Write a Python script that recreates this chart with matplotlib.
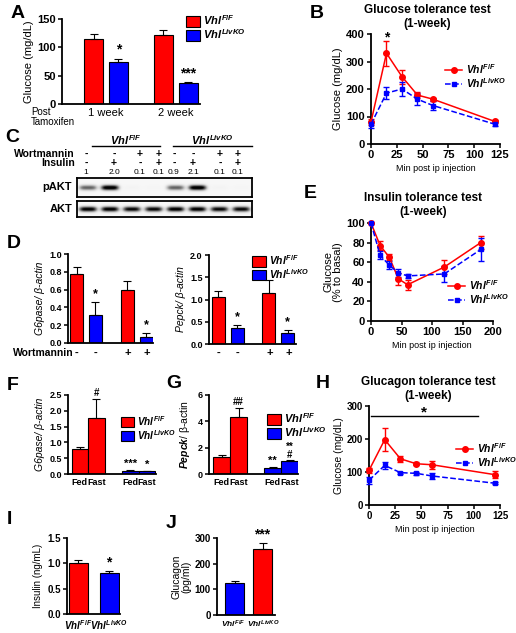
import numpy as np
import matplotlib
matplotlib.use("Agg")
import matplotlib.pyplot as plt
from matplotlib.patches import Patch
from matplotlib.lines import Line2D

# =========================
# DATA
# =========================
# A: fasting glucose after tamoxifen
a_groups = ["1 week", "2 week"]
a_ff = [114, 121]
a_ff_err = [10, 9]
a_ko = [74, 37]
a_ko_err = [6, 2]
a_marks = ["*", "***"]

# B: glucose tolerance test
gtt_t = [0, 15, 30, 45, 60, 120]
gtt_ff = [80, 330, 245, 178, 163, 82]
gtt_ff_err = [10, 45, 25, 10, 5, 6]
gtt_ko = [72, 185, 200, 163, 140, 72]
gtt_ko_err = [12, 22, 25, 22, 15, 8]

# C: western blot
lane_wort = ["-", "-", "+", "+", "-", "-", "+", "+"]
lane_ins = ["-", "+", "-", "+", "-", "+", "-", "+"]
lane_quant = ["1", "2.0", "0.1", "0.1", "0.9", "2.1", "0.1", "0.1"]
pakt_signal = [0.6, 1.0, 0.03, 0.02, 0.6, 1.0, 0.03, 0.02]
akt_signal = [0.95, 0.95, 0.9, 0.9, 0.95, 0.95, 0.9, 0.9]

# D: G6pase / Pepck with wortmannin
d_wort = ["-", "-", "+", "+"]
d_g6_ff = [0.77, 0.59]
d_g6_ff_err = [0.08, 0.11]
d_g6_ko = [0.32, 0.07]
d_g6_ko_err = [0.14, 0.04]
d_pe_ff = [1.06, 1.15]
d_pe_ff_err = [0.12, 0.29]
d_pe_ko = [0.36, 0.25]
d_pe_ko_err = [0.07, 0.06]

# E: insulin tolerance test
itt_t = [0, 15, 30, 45, 60, 120, 180]
itt_ff = [100, 77, 65, 43, 37, 55, 80]
itt_ff_err = [0, 5, 3, 6, 5, 7, 7]
itt_ko = [100, 67, 57, 49, 46, 48, 73]
itt_ko_err = [0, 4, 4, 4, 2, 8, 12]

# F / G: fed vs fast
fg_labels = ["Fed", "Fast"]
f_ff = [0.78, 1.78]
f_ff_err = [0.09, 0.6]
f_ko = [0.11, 0.08]
f_ko_err = [0.02, 0.01]
g_ff = [1.3, 4.3]
g_ff_err = [0.12, 0.7]
g_ko = [0.45, 0.95]
g_ko_err = [0.07, 0.08]

# H: glucagon tolerance test
gcg_t = [0, 15, 30, 45, 60, 120]
gcg_ff = [105, 198, 140, 125, 122, 92]
gcg_ff_err = [8, 35, 10, 5, 12, 10]
gcg_ko = [75, 120, 98, 96, 88, 66]
gcg_ko_err = [10, 10, 3, 5, 10, 3]

# I / J: serum hormones
ins_vals = [1.01, 0.81]
ins_err = [0.05, 0.03]
gcg_vals = [125, 258]
gcg_err = [7, 22]

# =========================
# STYLE
# =========================
plt.rcParams["font.family"] = ["Liberation Sans", "DejaVu Sans"]
plt.rcParams["font.weight"] = "bold"
plt.rcParams["mathtext.fontset"] = "custom"
plt.rcParams["mathtext.rm"] = "Liberation Sans:bold"
plt.rcParams["mathtext.it"] = "Liberation Sans:italic:bold"
plt.rcParams["mathtext.bf"] = "Liberation Sans:bold"
plt.rcParams["axes.linewidth"] = 1.3
plt.rcParams["xtick.major.width"] = 1.1
plt.rcParams["ytick.major.width"] = 1.1
plt.rcParams["xtick.major.size"] = 3
plt.rcParams["ytick.major.size"] = 3
plt.rcParams["xtick.major.pad"] = 1.5
plt.rcParams["ytick.major.pad"] = 1.5

RED = "#ff0000"
BLUE = "#0000ff"
FF = r"$Vhl^{F/F}$"
KO = r"$Vhl^{LivKO}$"

W, H = 516, 633
fig = plt.figure(figsize=(W / 100, H / 100), dpi=100)

overlay = fig.add_axes([0, 0, 1, 1], zorder=5)
overlay.set_xlim(0, W)
overlay.set_ylim(H, 0)
overlay.axis("off")
overlay.patch.set_visible(False)


def fx(x):
    return x / W


def fy(y):
    return 1 - y / H


def add_ax(l, t, r, b):
    ax = fig.add_axes([l / W, 1 - b / H, (r - l) / W, (b - t) / H])
    ax.spines[["top", "right"]].set_visible(False)
    return ax


def txt(x, y, s, size=8, **kw):
    kw.setdefault("ha", "center")
    kw.setdefault("va", "center")
    overlay.text(x, y, s, fontsize=size, **kw)


def bars(ax, x, vals, errs, color, width):
    ax.bar(x, vals, width, color=color, edgecolor="k", linewidth=0.8, zorder=2)
    ax.errorbar(x, vals, yerr=[np.zeros(len(vals)), errs], fmt="none",
                ecolor="k", elinewidth=0.8, capsize=3, capthick=0.8, zorder=3)


def curve(ax, x, y, e, color, marker, ls, ms):
    ax.errorbar(x, y, yerr=e, color=color, marker=marker, ms=ms, ls=ls,
                lw=1.1, elinewidth=1, capsize=2.5, capthick=1,
                clip_on=False, zorder=3)


def bar_legend(x, y, size=7.5):
    handles = [Patch(facecolor=RED, edgecolor="k", linewidth=0.8, label=FF),
               Patch(facecolor=BLUE, edgecolor="k", linewidth=0.8, label=KO)]
    fig.legend(handles=handles, loc="upper left", bbox_to_anchor=(fx(x), fy(y)),
               frameon=False, fontsize=size, handlelength=1.3, handleheight=1.15,
               handletextpad=0.3, labelspacing=0.0, borderpad=0)


def line_legend(ax, x, y, size=7.5):
    handles = [Line2D([], [], color=RED, marker="o", ms=4, ls="-", lw=1.1, label=FF),
               Line2D([], [], color=BLUE, marker="s", ms=3.5, ls="--", lw=1.1, label=KO)]
    ax.legend(handles=handles, loc="center left", bbox_to_anchor=(fx(x), fy(y)),
              bbox_transform=fig.transFigure, frameon=False, fontsize=size,
              handlelength=1.6, handletextpad=0.4, labelspacing=0.0, borderpad=0)


# =========================
# A
# =========================
txt(11, 13, "A", 14, ha="left")
ax = add_ax(62, 19, 200, 104)
centers = np.array([44, 114])
bars(ax, centers - 12.5, a_ff, a_ff_err, RED, 19)
bars(ax, centers + 12.5, a_ko, a_ko_err, BLUE, 19)
for c, v, e, m in zip(centers + 12.5, a_ko, a_ko_err, a_marks):
    ax.text(c, v + e + 3, m, ha="center", va="bottom", fontsize=10)
ax.set_xlim(0, 138)
ax.set_ylim(0, 150)
ax.set_yticks([0, 50, 100, 150])
ax.set_xticks(centers)
ax.set_xticklabels(a_groups, fontweight="normal", fontsize=8)
ax.tick_params(axis="x", length=0, pad=3)
ax.tick_params(axis="y", labelsize=8)
ax.set_ylabel("Glucose (mg/dL)", fontsize=8, labelpad=2)
txt(31, 112, "Post", 7, ha="left", fontweight="normal")
txt(31, 122, "Tamoxifen", 7, ha="left", fontweight="normal")
bar_legend(180, 8, 8)

# =========================
# B
# =========================
txt(310, 13, "B", 14, ha="left")
txt(427, 17, "Glucose tolerance test\n(1-week)", 8.5)
ax = add_ax(371, 34, 500, 144)
curve(ax, gtt_t, gtt_ff, gtt_ff_err, RED, "o", "-", 4)
curve(ax, gtt_t, gtt_ko, gtt_ko_err, BLUE, "s", "--", 3.5)
ax.text(15, 388, "*", ha="center", va="center", fontsize=10)
ax.set_xlim(0, 125)
ax.set_ylim(0, 400)
ax.set_xticks(range(0, 126, 25))
ax.set_yticks(range(0, 401, 100))
ax.tick_params(labelsize=8)
ax.set_ylabel("Glucose (mg/dL)", fontsize=8, labelpad=2)
ax.set_xlabel("Min post ip injection", fontsize=6.5, labelpad=3)
line_legend(ax, 440, 76)

# =========================
# C (western blot)
# =========================
txt(5, 137, "C", 14, ha="left")
lane_x = [86, 114, 140, 159, 174, 193, 220, 238]
txt(126, 140, FF, 8)
txt(212, 140, KO, 8)
overlay.plot([92, 160], [146, 146], color="k", lw=1)
overlay.plot([173, 252], [146, 146], color="k", lw=1)
txt(75, 154, "Wortmannin", 7.5, ha="right")
txt(75, 163, "Insulin", 7.5, ha="right")
for x, w, i, q in zip(lane_x, lane_wort, lane_ins, lane_quant):
    txt(x, 154, w, 7.5)
    txt(x, 163, i, 7.5)
    txt(x, 173, q, 6, fontweight="normal")
txt(72, 187, "pAKT", 8, ha="right")
txt(72, 209, "AKT", 8, ha="right")


def blot(l, t, r, b, signal):
    ax = fig.add_axes([l / W, 1 - b / H, (r - l) / W, (b - t) / H])
    nx, ny = (r - l) * 3, (b - t) * 3
    xx, yy = np.meshgrid(np.arange(nx), np.arange(ny))
    img = np.full((ny, nx), 0.06)
    n = len(signal)
    for k, s in enumerate(signal):
        cx = (k + 0.5) * nx / n
        img += s * np.exp(-((xx - cx) / 27.0) ** 4) * np.exp(-((yy - ny / 2) / 8.0) ** 2)
    ax.imshow(np.clip(img, 0, 1), cmap="Greys", vmin=0, vmax=0.95, aspect="auto",
              interpolation="bilinear")
    ax.set_xticks([])
    ax.set_yticks([])
    for sp in ax.spines.values():
        sp.set_linewidth(1.3)


blot(77, 178, 252, 197, pakt_signal)
blot(77, 201, 252, 217, akt_signal)

# =========================
# D
# =========================
txt(7, 244, "D", 14, ha="left")
ax = add_ax(68, 254, 153, 343)
dc = np.array([18, 69])
d_pos = [dc[0] - 9.5, dc[0] + 9.5, dc[1] - 9.5, dc[1] + 9.5]
bars(ax, dc - 9.5, d_g6_ff, d_g6_ff_err, RED, 13)
bars(ax, dc + 9.5, d_g6_ko, d_g6_ko_err, BLUE, 13)
for c, v, e in zip(dc + 9.5, d_g6_ko, d_g6_ko_err):
    ax.text(c, v + e + 0.02, "*", ha="center", va="bottom", fontsize=9)
ax.set_xlim(0, 85)
ax.set_ylim(0, 1.0)
ax.set_yticks([0, 0.2, 0.4, 0.6, 0.8, 1.0])
ax.set_yticklabels(["0.0", "0.2", "0.4", "0.6", "0.8", "1.0"])
ax.set_xticks([])
ax.tick_params(labelsize=6.5)
ax.set_ylabel("G6pase/ β-actin", fontsize=7.5, style="italic", labelpad=3)
txt(13, 353, "Wortmannin", 7.5, ha="left")
for c, s in zip(d_pos, d_wort):
    txt(68 + c, 353, s, 8)

ax = add_ax(209, 255, 296, 344)
bars(ax, dc - 9.5, d_pe_ff, d_pe_ff_err, RED, 13)
bars(ax, dc + 9.5, d_pe_ko, d_pe_ko_err, BLUE, 13)
for c, v, e in zip(dc + 9.5, d_pe_ko, d_pe_ko_err):
    ax.text(c, v + e + 0.04, "*", ha="center", va="bottom", fontsize=9)
ax.set_xlim(-1, 87)
ax.set_ylim(0, 2.0)
ax.set_yticks([0, 0.5, 1.0, 1.5, 2.0])
ax.set_yticklabels(["0.0", "0.5", "1.0", "1.5", "2.0"])
ax.set_xticks([])
ax.tick_params(labelsize=6.5)
ax.set_ylabel("Pepck/ β-actin", fontsize=7.5, style="italic", labelpad=3)
for c, s in zip(d_pos, d_wort):
    txt(210 + c, 353, s, 8)
bar_legend(247, 248, 7.5)

# =========================
# E
# =========================
txt(304, 193, "E", 14, ha="left")
txt(423, 205, "Insulin tolerance test\n(1-week)", 8.5)
ax = add_ax(371, 223, 493, 321)
curve(ax, itt_t, itt_ff, itt_ff_err, RED, "o", "-", 4)
curve(ax, itt_t, itt_ko, itt_ko_err, BLUE, "s", "--", 3.5)
ax.set_xlim(0, 200)
ax.set_ylim(0, 100)
ax.set_xticks(range(0, 201, 50))
ax.set_yticks(range(0, 101, 20))
ax.tick_params(labelsize=8)
ax.set_ylabel("Glucose\n(% to basal)", fontsize=8, labelpad=2, linespacing=1.0)
ax.set_xlabel("Min post ip injection", fontsize=6.5, labelpad=3)
line_legend(ax, 443, 292)

# =========================
# F
# =========================
txt(7, 385, "F", 14, ha="left")
ax = add_ax(68, 395, 156, 474)
fc = np.array([20, 70.5])
bars(ax, [fc[0] - 8.25, fc[0] + 8.25], f_ff, f_ff_err, RED, 16.5)
bars(ax, [fc[1] - 8.25, fc[1] + 8.25], f_ko, f_ko_err, BLUE, 16.5)
ax.text(fc[0] + 8.25, 1.78 + 0.6 + 0.04, "#", ha="center", va="bottom", fontsize=7)
ax.text(fc[1] - 8.25, 0.13 + 0.03, "***", ha="center", va="bottom", fontsize=8)
ax.text(fc[1] + 8.25, 0.09 + 0.03, "*", ha="center", va="bottom", fontsize=8)
ax.set_xlim(0, 88)
ax.set_ylim(0, 2.5)
ax.set_yticks([0, 0.5, 1.0, 1.5, 2.0, 2.5])
ax.set_yticklabels(["0.0", "0.5", "1.0", "1.5", "2.0", "2.5"])
ax.set_xticks([fc[0] - 8.25, fc[0] + 8.25, fc[1] - 8.25, fc[1] + 8.25])
ax.set_xticklabels(fg_labels * 2)
ax.tick_params(axis="x", length=0, pad=3)
ax.tick_params(labelsize=6.5)
ax.set_ylabel("G6pase/ β-actin", fontsize=7.5, style="italic", labelpad=3)
bar_legend(116, 409, 7.2)

# =========================
# G
# =========================
txt(166, 383, "G", 14, ha="left")
ax = add_ax(209, 395, 298, 474)
gc = np.array([21, 72])
bars(ax, [gc[0] - 8.5, gc[0] + 8.5], g_ff, g_ff_err, RED, 17)
bars(ax, [gc[1] - 8.5, gc[1] + 8.5], g_ko, g_ko_err, BLUE, 17)
ax.text(gc[0] + 8.5, 4.3 + 0.7 + 0.1, "##", ha="center", va="bottom", fontsize=7)
ax.text(gc[1] - 8.5, 0.52 + 0.1, "**", ha="center", va="bottom", fontsize=8)
ax.text(gc[1] + 8.5, 1.03 + 0.05, "**\n#", ha="center", va="bottom", fontsize=7,
        linespacing=0.8)
ax.set_xlim(0, 89)
ax.set_ylim(0, 6)
ax.set_yticks([0, 2, 4, 6])
ax.set_xticks([gc[0] - 8.5, gc[0] + 8.5, gc[1] - 8.5, gc[1] + 8.5])
ax.set_xticklabels(fg_labels * 2)
ax.tick_params(axis="x", length=0, pad=3)
ax.tick_params(labelsize=6.5)
ax.set_ylabel("$Pepck$/ β-actin", fontsize=7.5, labelpad=4)
bar_legend(261, 406, 8)

# =========================
# H
# =========================
txt(316, 384, "H", 14, ha="left")
txt(428, 389, "Glucagon tolerance test\n(1-week)", 8.5)
ax = add_ax(369, 406, 500, 505)
curve(ax, gcg_t, gcg_ff, gcg_ff_err, RED, "o", "-", 4)
curve(ax, gcg_t, gcg_ko, gcg_ko_err, BLUE, "s", "--", 3.5)
ax.plot([2, 104], [270, 270], color="k", lw=1)
ax.text(52, 280, "*", ha="center", va="center", fontsize=11)
ax.set_xlim(0, 125)
ax.set_ylim(0, 300)
ax.set_xticks(range(0, 126, 25))
ax.set_yticks(range(0, 301, 100))
ax.tick_params(labelsize=7)
ax.set_ylabel("Glucose (mg/dL)", fontsize=7.5, labelpad=2)
ax.set_xlabel("Min post ip injection", fontsize=6.5, labelpad=3)
line_legend(ax, 451, 455)

# =========================
# I
# =========================
txt(7, 520, "I", 14, ha="left")
ax = add_ax(67, 538, 120, 614)
bars(ax, [11, 42], ins_vals, ins_err, [RED, BLUE], 19)
ax.text(42, ins_vals[1] + ins_err[1] + 0.03, "*", ha="center", va="bottom", fontsize=10)
ax.set_xlim(0, 53)
ax.set_ylim(0, 1.5)
ax.set_yticks([0, 0.5, 1.0, 1.5])
ax.set_yticklabels(["0.0", "0.5", "1.0", "1.5"])
ax.set_xticks([11, 42])
ax.set_xticklabels([FF, KO])
ax.tick_params(axis="x", length=0, pad=3, labelsize=7)
ax.tick_params(axis="y", labelsize=7)
ax.set_ylabel("Insulin (ng/mL)", fontsize=7, fontweight="normal", labelpad=3)

# =========================
# J
# =========================
txt(166, 523, "J", 14, ha="left")
ax = add_ax(217, 538, 275, 615)
bars(ax, [17.5, 45.5], gcg_vals, gcg_err, [BLUE, RED], 19)
ax.text(45.5, gcg_vals[1] + gcg_err[1] + 5, "***", ha="center", va="bottom", fontsize=10)
ax.set_xlim(0, 58)
ax.set_ylim(0, 300)
ax.set_yticks([0, 100, 200, 300])
ax.set_xticks([16.5, 46.5])
ax.set_xticklabels([FF, KO])
ax.tick_params(axis="x", length=0, pad=3, labelsize=6)
ax.tick_params(axis="y", labelsize=7)
ax.set_ylabel("Glucagon\n(pg/ml)", fontsize=7.5, labelpad=2, linespacing=1.0)

fig.savefig("out.png", dpi=100)
